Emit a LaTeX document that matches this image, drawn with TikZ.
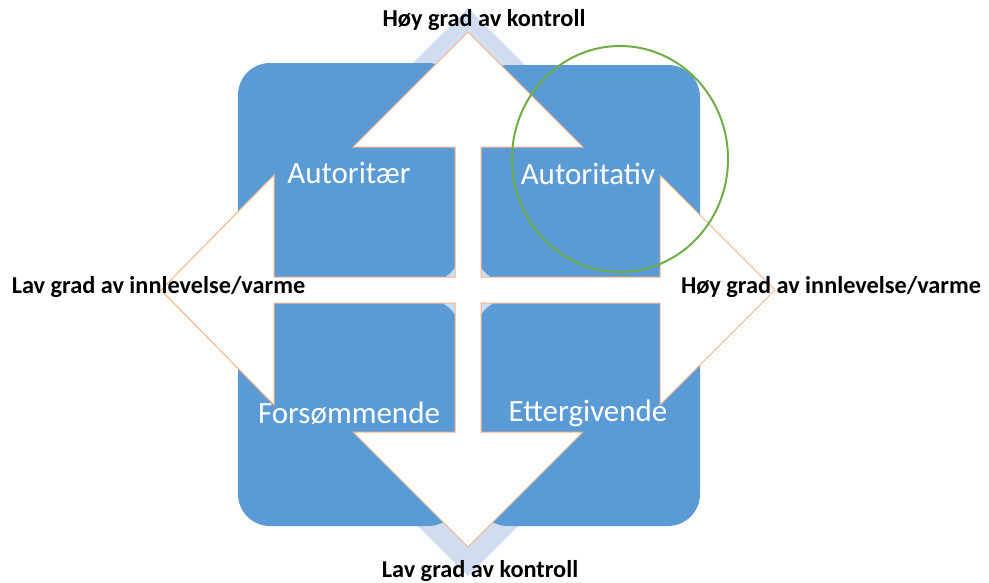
\documentclass[tikz,border=0pt]{standalone}
\usepackage{fontspec}
\setmainfont{Carlito}
\definecolor{boxblue}{HTML}{5B9BD5}
\definecolor{paleblue}{HTML}{D0DCEF}
\definecolor{edgeorange}{HTML}{F4B183}
\definecolor{ringgreen}{HTML}{70AD47}
\tikzstyle{quadrant} = [
 rectangle,
 fill=boxblue,
 rounded corners=32pt,
 text=white,
 inner sep=0pt,
 font=\fontsize{31}{37}\selectfont
]
\tikzstyle{axisLabel} = [
 inner sep=0pt,
 anchor=base,
 font=\bfseries\fontsize{24.3}{29}\selectfont
]

\begin{document}
\begin{tikzpicture}[x=1pt,y=-1pt]
  \useasboundingbox (0,0) rectangle (989,582);
  \fill[paleblue] (468,8) -- (752,292) -- (468,576) -- (184,292) -- cycle;
  \node [quadrant, minimum width=222pt, minimum height=219pt] (autoritaer) at (349,172.5) {Autoritær};
  \node [quadrant, minimum width=224pt, minimum height=217pt] (autoritativ) at (588,173.5) {Autoritativ};
  \node [quadrant, minimum width=222pt, minimum height=226pt] (forsommende) at (349,413) {Forsømmende};
  \node [quadrant, minimum width=224pt, minimum height=226pt] (ettergivende) at (588,413) {Ettergivende};
  \draw [fill=white, draw=edgeorange, line width=1pt, line join=miter]
    (468,32) -- (583,147) -- (481,147) -- (481,277) -- (660,277) -- (660,175)
    -- (775,290) -- (660,405) -- (660,303) -- (481,303) -- (481,432) -- (583,432)
    -- (468,547) -- (353,432) -- (455,432) -- (455,303) -- (274,303) -- (274,405)
    -- (161,290) -- (274,175) -- (274,277) -- (455,277) -- (455,147) -- (353,147) -- cycle;
  \draw [ringgreen, line width=2pt] (620,159) ellipse [x radius=108, y radius=113];
  \node [axisLabel] (hoykontroll) at (484,26) {Høy grad av kontroll};
  \node [axisLabel] (lavkontroll) at (480,577) {Lav grad av kontroll};
  \node [axisLabel] (lavvarme) at (158.5,293) {Lav grad av innlevelse/varme};
  \node [axisLabel] (hoyvarme) at (831,293) {Høy grad av innlevelse/varme};
\end{tikzpicture}
\end{document}
